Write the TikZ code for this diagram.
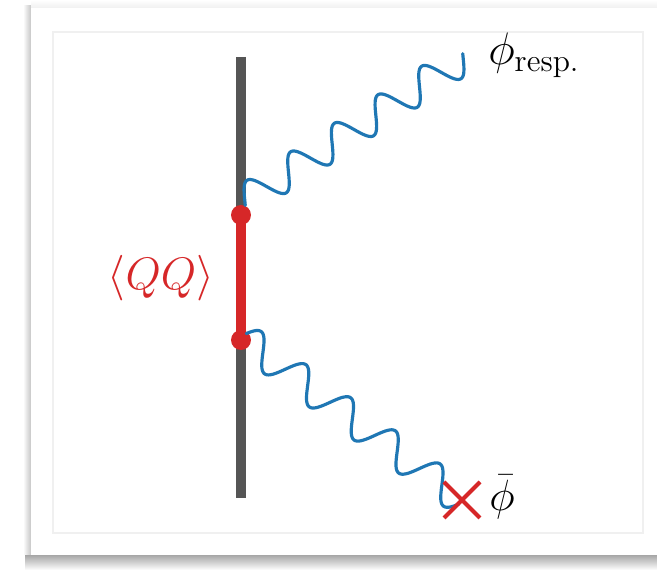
\documentclass[tikz,border=0pt]{standalone}
\usepackage{amsmath}
\usepackage{tikz}
\usetikzlibrary{calc,positioning}
\definecolor{wallgray}{HTML}{555555}
\definecolor{qqred}{HTML}{D62728}
\definecolor{photonblue}{HTML}{1F77B4}
\begin{document}
\begin{tikzpicture}[
  x=0.02cm,y=-0.02cm,
  wall/.style={line width=0.2cm,wallgray},
  qq/.style={line width=0.2cm,qqred},
  photon/.style={line width=1.8pt,photonblue,line cap=round,line join=round},
  cross/.style={line width=2.3pt,qqred},
  lbl/.style={font=\huge,inner sep=0pt}
]
  \useasboundingbox (0,0) rectangle (657,570);
  % card with shadow
  \shade[top color=gray!70,bottom color=white] (25,555) rectangle (657,570);
  \shade[left color=white,right color=gray!45] (23,6) rectangle (31,555);
  \shade[top color=white,bottom color=gray!12] (31,0) rectangle (657,8);
  \fill[white] (31,8) rectangle (657,555);
  \draw[gray!12,line width=0.6pt] (53,32) rectangle (643,533);

  % wall and condensate
  \coordinate (wtop) at (241,57);
  \coordinate (wbot) at (241,498);
  \coordinate (qa) at (241,215);
  \coordinate (qb) at (241,340);
  \draw[wall] (wtop) -- (wbot);
  \draw[qq] (qa) -- (qb);
  \fill[qqred] (qa) circle (0.2cm);
  \fill[qqred] (qb) circle (0.2cm);
  \node[lbl,text=qqred] (qqlabel) at (161,278) {\scalebox{1.25}{$\langle QQ\rangle$}};

  % radiated and source fields (sine along the line between the points)
  \coordinate (emit) at (243,202);
  \coordinate (resp) at (465,57);
  \coordinate (absorb) at (243,338);
  \coordinate (src) at (462,500);
  \coordinate (emitn) at ($(emit)!0.32cm!90:(resp)$);
  \coordinate (absorbn) at ($(absorb)!0.32cm!90:(src)$);
  \draw[photon] let \p1=(emit), \p2=(resp), \p3=($(emitn)-(emit)$) in
    plot[variable=\t,domain=0:1,samples=181,smooth]
    ({\x1+(\x2-\x1)*\t+\x3*sin(1830*\t-15)},{\y1+(\y2-\y1)*\t+\y3*sin(1830*\t-15)});
  \draw[photon] let \p1=(absorb), \p2=(src), \p3=($(absorbn)-(absorb)$) in
    plot[variable=\t,domain=0:1,samples=181,smooth]
    ({\x1+(\x2-\x1)*\t+\x3*sin(1762*\t+20)},{\y1+(\y2-\y1)*\t+\y3*sin(1762*\t+20)});

  \draw[cross] ($(src)+(-18,-18)$) -- ($(src)+(18,18)$);
  \draw[cross] ($(src)+(-18,18)$) -- ($(src)+(18,-18)$);
  \node[lbl,anchor=west] (resplabel) at (488,55) {\scalebox{1.25}{$\phi_{\text{resp.}}$}};
  \node[lbl,anchor=west] (srclabel) at (489,497) {\scalebox{1.2}{$\bar{\phi}$}};
\end{tikzpicture}
\end{document}
